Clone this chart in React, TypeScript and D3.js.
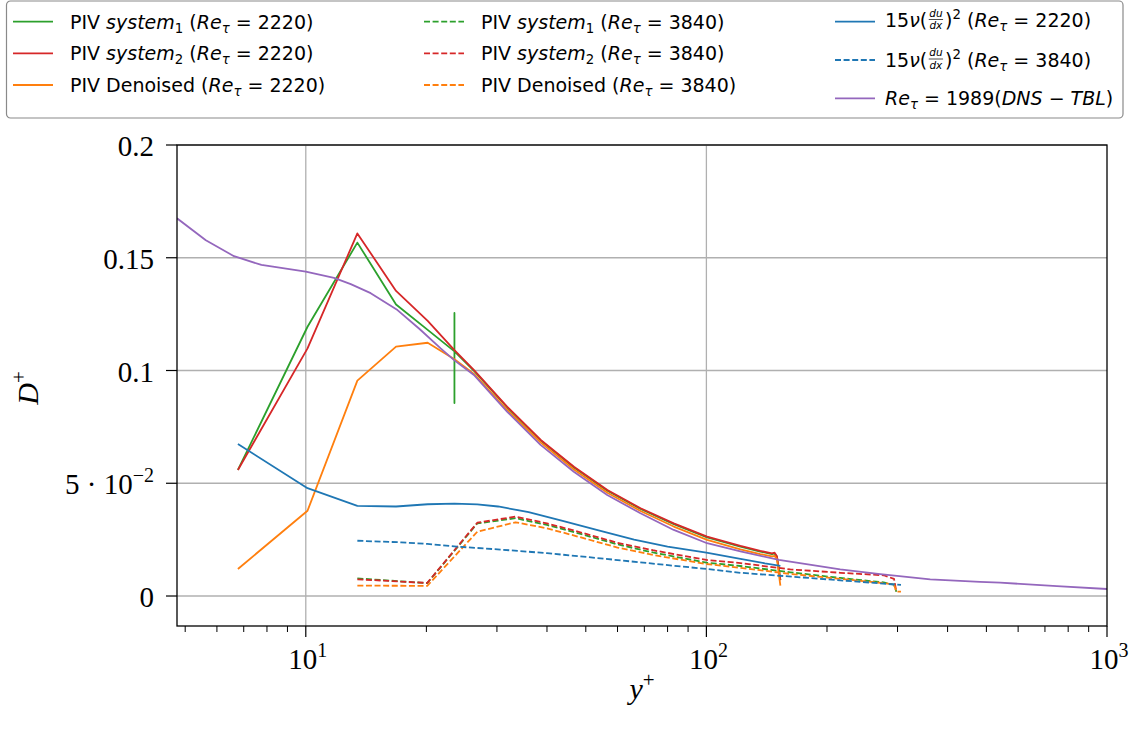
import React, { useEffect, useRef } from 'react';
import * as d3 from 'd3';

const W = 1132;
const H = 733;
const PL = 177, PR = 1107, PT = 145, PB = 626;

// ---------- data ----------
const xPiv2220 = [6.77, 10.1, 13.45, 16.8, 20.15, 23.5, 26.3, 31.8, 38.6, 46.7, 56.6, 68.5, 82.9, 100.4, 121.6, 136.3, 145.8, 148, 150, 153];
const redSolid = [0.0559, 0.1098, 0.1608, 0.1353, 0.1220, 0.1090, 0.1002, 0.0840, 0.0692, 0.0573, 0.0470, 0.0389, 0.0322, 0.0263, 0.0222, 0.0200, 0.0189, 0.0192, 0.0176, 0.0070];
const orangeSolid = [0.0120, 0.0378, 0.0955, 0.1106, 0.1123, 0.1050, 0.0985, 0.0826, 0.0680, 0.0561, 0.0458, 0.0377, 0.0308, 0.0249, 0.0207, 0.0186, 0.0176, 0.0178, 0.0163, 0.0046];
const xGreenSolid = [6.77, 10.1, 13.45, 16.8, 20.15, 23.5, 23.5, 23.5, 23.5, 26.3, 31.8, 38.6, 46.7, 56.6, 68.5, 82.9, 100.4, 121.6, 136.3, 145.8, 148, 150, 153];
const greenSolid = [0.0559, 0.1194, 0.1567, 0.1293, 0.1180, 0.1085, 0.1255, 0.0856, 0.1085, 0.0998, 0.0837, 0.0689, 0.0570, 0.0467, 0.0386, 0.0319, 0.0260, 0.0219, 0.0197, 0.0186, 0.0189, 0.0174, 0.0070];

const xPiv3840 = [13.45, 20.1, 26.8, 33.4, 40, 46.8, 60, 73.5, 100, 121.6, 162, 216, 277, 294, 298];
const redDashed = [0.0074, 0.0058, 0.0325, 0.0352, 0.0322, 0.0290, 0.0236, 0.0203, 0.0160, 0.0146, 0.0118, 0.0103, 0.0092, 0.0076, 0.0019];
const greenDashed = [0.0078, 0.0057, 0.0322, 0.0345, 0.0315, 0.0283, 0.0229, 0.0193, 0.0148, 0.0133, 0.0105, 0.0080, 0.0060, 0.0050, 0.0019];
const xOrangeDashed = [13.45, 20.1, 26.8, 33.4, 40, 46.8, 60, 73.5, 100, 121.6, 162, 216, 277, 294, 298, 306];
const orangeDashed = [0.0046, 0.0045, 0.0285, 0.0327, 0.0300, 0.0268, 0.0215, 0.0182, 0.0142, 0.0125, 0.0098, 0.0076, 0.0057, 0.0052, 0.0019, 0.0019];

const xBlueSolid = [6.77, 10.1, 13.45, 16.8, 20.15, 23.5, 26.8, 30.2, 36, 44, 54.4, 66, 80, 100, 121.6, 140, 153];
const blueSolid = [0.0674, 0.0478, 0.0400, 0.0397, 0.0407, 0.0410, 0.0406, 0.0397, 0.0372, 0.0332, 0.0289, 0.0250, 0.0219, 0.0192, 0.0165, 0.0145, 0.0134];
const xBlueDashed = [13.45, 17.3, 20.1, 23.8, 30.6, 40, 54.4, 75, 100, 121.6, 200, 306];
const blueDashed = [0.0245, 0.0238, 0.0231, 0.0219, 0.0206, 0.0190, 0.0167, 0.0142, 0.0120, 0.0103, 0.0074, 0.0049];

const xDns = [4.77, 5.63, 6.62, 7.75, 10, 11.76, 12.95, 14.52, 16.94, 19.2, 21.71, 23.5, 26.28, 31.84, 38.55, 46.67, 56.55, 68.45, 82.9, 100.4, 121.6, 151.7, 215.8, 271.7, 362, 482, 541, 750, 1000];
const dns = [0.1675, 0.1578, 0.1507, 0.1468, 0.1438, 0.1411, 0.1383, 0.1343, 0.1268, 0.1185, 0.1098, 0.1045, 0.0980, 0.0817, 0.0670, 0.0551, 0.0448, 0.0367, 0.0293, 0.0234, 0.0198, 0.0160, 0.0118, 0.0097, 0.0074, 0.0063, 0.0059, 0.0044, 0.0031];

const yTicks = [0, 0.05, 0.1, 0.15, 0.2];
const yTickLabels = ['0', '5·10^−2', '0.1', '0.15', '0.2'];
const xMajor = [10, 100, 1000];
const xMajorExp = ['1', '2', '3'];

const C = { blue: '#1f77b4', orange: '#ff7f0e', green: '#2ca02c', red: '#d62728', purple: '#9467bd' };

type Seg = { t?: string; it?: boolean; sub?: boolean; sup?: boolean; frac?: [string, string] };

const reT = (n: string): Seg[] => [{ t: ' (' }, { t: 'Re', it: true }, { t: 'τ', sub: true, it: true }, { t: ' = ' + n + ')' }];

const SANS = "'DejaVu Sans', sans-serif";
const SERIF = "'Liberation Serif', 'DejaVu Serif', serif";

export default function App() {
  const ref = useRef<SVGSVGElement>(null);

  useEffect(() => {
    const svg = d3.select(ref.current as SVGSVGElement);
    svg.selectAll('*').remove();

    const x = d3.scaleLog().domain([4.77, 1000]).range([PL, PR]);
    const y = d3.scaleLinear().domain([-0.0133, 0.2]).range([PB, PT]);

    svg.append('rect').attr('width', W).attr('height', H).attr('fill', '#fff');

    // grid
    const grid = svg.append('g').attr('stroke', '#b0b0b0').attr('stroke-width', 1.3);
    [10, 100].forEach(v => grid.append('line').attr('x1', x(v)).attr('x2', x(v)).attr('y1', PT).attr('y2', PB));
    yTicks.forEach(v => grid.append('line').attr('x1', PL).attr('x2', PR).attr('y1', y(v)).attr('y2', y(v)));

    // clip
    svg.append('clipPath').attr('id', 'clip').append('rect').attr('x', PL).attr('y', PT).attr('width', PR - PL).attr('height', PB - PT);

    const line = d3.line<[number, number]>().x(d => x(d[0])).y(d => y(d[1]));
    const zip = (xs: number[], ys: number[]) => xs.map((v, i) => [v, ys[i]] as [number, number]);

    const series = [
      { d: zip(xGreenSolid, greenSolid), c: C.green, dash: false },
      { d: zip(xPiv2220, redSolid), c: C.red, dash: false },
      { d: zip(xPiv2220, orangeSolid), c: C.orange, dash: false },
      { d: zip(xPiv3840, greenDashed), c: C.green, dash: true },
      { d: zip(xPiv3840, redDashed), c: C.red, dash: true },
      { d: zip(xOrangeDashed, orangeDashed), c: C.orange, dash: true },
      { d: zip(xBlueSolid, blueSolid), c: C.blue, dash: false },
      { d: zip(xBlueDashed, blueDashed), c: C.blue, dash: true },
      { d: zip(xDns, dns), c: C.purple, dash: false },
    ];
    const lg = svg.append('g').attr('clip-path', 'url(#clip)');
    series.forEach(sr => {
      lg.append('path').attr('d', line(sr.d) as string)
        .attr('fill', 'none').attr('stroke', sr.c).attr('stroke-width', 1.8)
        .attr('stroke-dasharray', sr.dash ? '6,2.6' : null)
        .attr('stroke-linejoin', 'round');
    });

    // spines
    svg.append('rect').attr('x', PL).attr('y', PT).attr('width', PR - PL).attr('height', PB - PT)
      .attr('fill', 'none').attr('stroke', '#000').attr('stroke-width', 1.3);

    // ticks
    const tk = svg.append('g').attr('stroke', '#000').attr('stroke-width', 1.2);
    yTicks.forEach(v => tk.append('line').attr('x1', PL - 11).attr('x2', PL).attr('y1', y(v)).attr('y2', y(v)));
    xMajor.forEach(v => tk.append('line').attr('x1', x(v)).attr('x2', x(v)).attr('y1', PB).attr('y2', PB + 11));
    [1, 10, 100].forEach(dd => {
      for (let k = 2; k <= 9; k++) {
        const v = k * dd;
        if (v >= 4.77 && v <= 1000) tk.append('line').attr('x1', x(v)).attr('x2', x(v)).attr('y1', PB).attr('y2', PB + 6).attr('stroke-width', 1);
      }
    });

    // y tick labels
    const tl = svg.append('g').style('font-family', SERIF).attr('fill', '#000');
    yTicks.forEach((v, i) => {
      const lab = yTickLabels[i];
      const t = tl.append('text').attr('x', 154).attr('y', y(v) + 11).attr('text-anchor', 'end').style('font-size', '29px');
      if (lab.includes('^')) {
        const [base, exp] = lab.split('^');
        t.append('tspan').text(base.replace('·', ' · '));
        t.append('tspan').attr('dy', -12).style('font-size', '20px').text(exp);
      } else t.text(lab);
    });
    // x tick labels
    xMajor.forEach((v, i) => {
      const t = tl.append('text').attr('x', x(v) + 2).attr('y', 669).attr('text-anchor', 'middle').style('font-size', '29px');
      t.append('tspan').text('10');
      t.append('tspan').attr('dy', -12).style('font-size', '20px').text(xMajorExp[i]);
    });
    // axis labels
    const xl = tl.append('text').attr('x', 642).attr('y', 699).attr('text-anchor', 'middle').style('font-size', '30px');
    xl.append('tspan').style('font-style', 'italic').text('y');
    xl.append('tspan').attr('dy', -12).style('font-size', '21px').text('+');
    const yl = tl.append('text').attr('transform', 'translate(38,388) rotate(-90)').attr('text-anchor', 'middle').style('font-size', '30px');
    yl.append('tspan').style('font-style', 'italic').text('D');
    yl.append('tspan').attr('dy', -12).style('font-size', '21px').text('+');

    // legend
    const leg = svg.append('g');
    leg.append('rect').attr('x', 6.5).attr('y', 1).attr('width', 1116.5).attr('height', 117).attr('rx', 4)
      .attr('fill', '#fff').attr('fill-opacity', 0.85).attr('stroke', '#8a8a8a').attr('stroke-width', 1.2);

    const FS = 19;
    const rich = (x0: number, yb: number, segs: Seg[]) => {
      let cx = x0;
      const runs: (Seg[] | Seg)[] = [];
      let cur: Seg[] = [];
      segs.forEach(s => {
        if (s.frac) {
          if (cur.length) runs.push(cur);
          cur = [];
          runs.push(s);
        } else cur.push(s);
      });
      if (cur.length) runs.push(cur);

      runs.forEach(r => {
        if (!Array.isArray(r)) {
          const s = r;
          cx += 1.5;
          const sz = 10.5;
          const mkf = (txt: string, by: number) => leg.append('text').attr('x', 0).attr('y', by)
            .style('font-family', SANS).style('font-size', sz + 'px').style('font-style', 'italic').attr('fill', '#000').text(txt);
          const a = mkf(s.frac![0], yb - 10.5);
          const b = mkf(s.frac![1], yb + 2);
          const wa = (a.node() as SVGTextElement).getComputedTextLength();
          const wb = (b.node() as SVGTextElement).getComputedTextLength();
          const w = Math.max(wa, wb) + 1;
          a.attr('x', cx + (w - wa) / 2);
          b.attr('x', cx + (w - wb) / 2);
          leg.append('line').attr('x1', cx).attr('x2', cx + w).attr('y1', yb - 7.5).attr('y2', yb - 7.5).attr('stroke', '#000').attr('stroke-width', 0.7);
          cx += w + 2;
          return;
        }
        const t = leg.append('text').attr('x', cx).attr('y', yb)
          .style('font-family', SANS).style('font-size', FS + 'px').style('white-space', 'pre').attr('fill', '#000');
        let off = 0;
        r.forEach(s => {
          const target = s.sub ? 4 : s.sup ? -8 : 0;
          t.append('tspan').attr('dy', target - off)
            .style('font-style', s.it ? 'italic' : 'normal')
            .style('font-size', (s.sub || s.sup ? FS * 0.7 : FS) + 'px')
            .text(s.t || '');
          off = target;
        });
        cx += (t.node() as SVGTextElement).getComputedTextLength();
      });
    };

    const items: { c: string; dash: boolean; hx: number; tx: number; hy: number; by: number; segs: Seg[] }[] = [
      { c: C.green, dash: false, hx: 13, tx: 70, hy: 21.7, by: 28.5, segs: [{ t: 'PIV ' }, { t: 'system', it: true }, { t: '1', sub: true }, ...reT('2220')] },
      { c: C.red, dash: false, hx: 13, tx: 70, hy: 53.3, by: 60, segs: [{ t: 'PIV ' }, { t: 'system', it: true }, { t: '2', sub: true }, ...reT('2220')] },
      { c: C.orange, dash: false, hx: 13, tx: 70, hy: 85, by: 91.6, segs: [{ t: 'PIV Denoised' }, ...reT('2220')] },
      { c: C.green, dash: true, hx: 424, tx: 481, hy: 21.7, by: 28.5, segs: [{ t: 'PIV ' }, { t: 'system', it: true }, { t: '1', sub: true }, ...reT('3840')] },
      { c: C.red, dash: true, hx: 424, tx: 481, hy: 53.3, by: 60, segs: [{ t: 'PIV ' }, { t: 'system', it: true }, { t: '2', sub: true }, ...reT('3840')] },
      { c: C.orange, dash: true, hx: 424, tx: 481, hy: 85, by: 91.6, segs: [{ t: 'PIV Denoised' }, ...reT('3840')] },
      { c: C.blue, dash: false, hx: 835, tx: 885, hy: 21.7, by: 27, segs: [{ t: '15' }, { t: 'ν', it: true }, { t: '(' }, { frac: ['du', 'dx'] }, { t: ')' }, { t: '2', sup: true }, ...reT('2220')] },
      { c: C.blue, dash: true, hx: 835, tx: 885, hy: 60, by: 66.5, segs: [{ t: '15' }, { t: 'ν', it: true }, { t: '(' }, { frac: ['du', 'dx'] }, { t: ')' }, { t: '2', sup: true }, ...reT('3840')] },
      { c: C.purple, dash: false, hx: 835, tx: 885, hy: 98.3, by: 104.8, segs: [{ t: 'Re', it: true }, { t: 'τ', sub: true, it: true }, { t: ' = 1989(' }, { t: 'DNS', it: true }, { t: ' − ' }, { t: 'TBL', it: true }, { t: ')' }] },
    ];
    items.forEach(it => {
      leg.append('line').attr('x1', it.hx).attr('x2', it.hx + 40).attr('y1', it.hy).attr('y2', it.hy)
        .attr('stroke', it.c).attr('stroke-width', 1.8).attr('stroke-dasharray', it.dash ? '6,2.6' : null);
      rich(it.tx, it.by, it.segs);
    });
  }, []);

  return <svg ref={ref} width={W} height={H} style={{ position: 'absolute', left: 0, top: 0, display: 'block' }} />;
}
